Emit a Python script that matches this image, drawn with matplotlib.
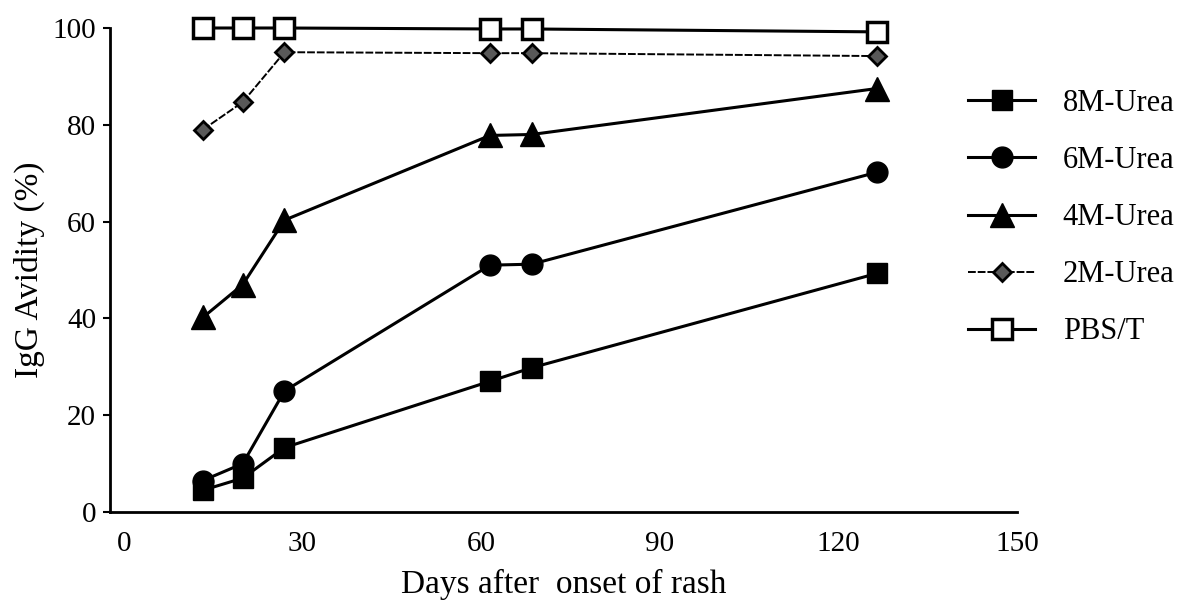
import matplotlib
matplotlib.use("Agg")
import matplotlib.pyplot as plt

plt.rcParams['font.family'] = ['Liberation Serif', 'DejaVu Serif']

days = [13.3, 20, 27, 61.5, 68.5, 126.5]
urea8 = [4.5, 7, 13.3, 27, 29.8, 49.3]
urea6 = [6.5, 10, 25, 51, 51.2, 70.2]
urea4 = [40.2, 47, 60.3, 77.8, 78, 87.5]
urea2 = [79, 84.7, 95, 94.8, 94.8, 94.2]
pbst = [100, 100, 100, 99.8, 99.8, 99.2]
xticks = [0, 30, 60, 90, 120, 150]
yticks = [0, 20, 40, 60, 80, 100]
labels = ['8M-Urea', '6M-Urea', '4M-Urea', '2M-Urea', 'PBS/T']

fig = plt.figure(figsize=(11.93, 6.09), dpi=100)
L, R, B, T = 110, 1017, 512, 28
ax = fig.add_axes([L / 1193, 1 - B / 609, (R - L) / 1193, (B - T) / 609])

common = dict(color='black', clip_on=False)
ax.plot(days, urea8, marker='s', ms=14, lw=2.2, mfc='black', mec='black', label=labels[0], **common)
ax.plot(days, urea6, marker='o', ms=15, lw=2.2, mfc='black', mec='black', label=labels[1], **common)
ax.plot(days, urea4, marker='^', ms=17, lw=2.2, mfc='black', mec='black', label=labels[2], **common)
ax.plot(days, urea2, marker='D', ms=9, lw=1.4, ls=(0, (4, 1)), mfc='0.35', mec='black', mew=2,
        label=labels[3], **common)
ax.plot(days, pbst, marker='s', ms=15, lw=2.2, mfc='white', mec='black', mew=2.5, label=labels[4], **common)

ax.set_xlim(-2.3, 150)
ax.set_ylim(0, 100)
ax.set_xticks(xticks)
ax.set_yticks(yticks)
ax.tick_params(axis='x', length=0, pad=14, labelsize=21)
ax.tick_params(axis='y', length=5, width=1.5, pad=5, labelsize=21)
for s in ['top', 'right']:
    ax.spines[s].set_visible(False)
for s in ['left', 'bottom']:
    ax.spines[s].set_linewidth(2)

ax.set_xlabel('Days after  onset of rash', fontsize=24)
ax.set_ylabel('IgG Avidity (%)', fontsize=24)
ax.xaxis.set_label_coords(0.5, -0.118)
ax.yaxis.set_label_coords(-0.072, 0.5)

leg = ax.legend(loc='upper left', bbox_to_anchor=(968 / 1193, 1 - 89 / 609),
                bbox_transform=fig.transFigure, frameon=False, fontsize=22,
                handlelength=2.2, handletextpad=0.9, labelspacing=0.92, borderpad=0,
                borderaxespad=0)

fig.savefig('out.png', dpi=100)
